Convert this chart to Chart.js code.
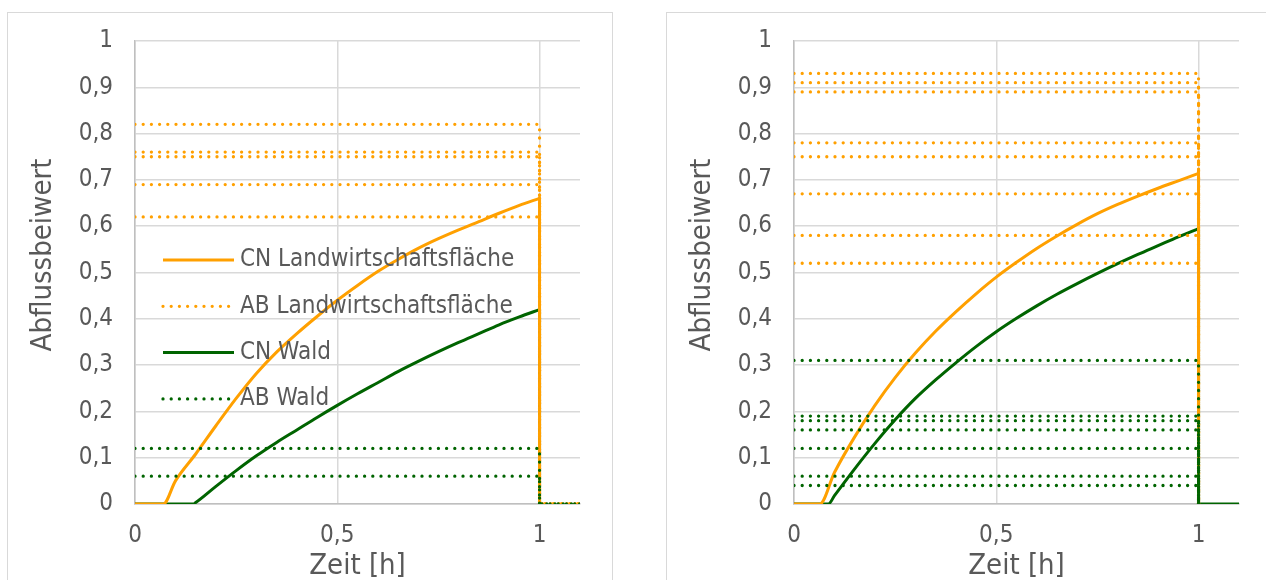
<!DOCTYPE html>
<html><head><meta charset="utf-8">
<script src="https://cdn.jsdelivr.net/npm/chart.js@4/dist/chart.umd.min.js"></script>
<style>
html,body{margin:0;padding:0;background:#fff;width:1266px;height:580px;overflow:hidden;position:relative}
.box{position:absolute;top:12px;border:1px solid #d9d9d9;height:640px;box-sizing:border-box}
#box1{left:7px;width:606px}
#box2{left:666px;width:700px}
canvas{position:absolute;top:0}
#c1{left:0}
#c2{left:659px}
</style></head><body>
<div class="box" id="box1"></div><div class="box" id="box2"></div>
<canvas id="c1" width="633" height="600" style="width:633px;height:600px"></canvas>
<canvas id="c2" width="633" height="600" style="width:633px;height:600px"></canvas>
<script>
// ---- tick labels / texts ----
const xTicks = [0, 0.5, 1];
const xTickLabels = ['0', '0,5', '1'];
const yTicks = [0, 0.1, 0.2, 0.3, 0.4, 0.5, 0.6, 0.7, 0.8, 0.9, 1];
const yTickLabels = ['0', '0,1', '0,2', '0,3', '0,4', '0,5', '0,6', '0,7', '0,8', '0,9', '1'];
const seriesNames = ['CN Landwirtschaftsfläche', 'AB Landwirtschaftsfläche', 'CN Wald', 'AB Wald'];
const xTitle = 'Zeit [h]';
const yTitle = 'Abflussbeiwert';
const stepEndTime = 1;
const axisEndTime = 1.1;

// ---- left chart ----
const leftCnLandwTime  = [0, 0.07, 0.1, 0.15, 0.2, 0.25, 0.3, 0.35, 0.4, 0.45, 0.5, 0.55, 0.6, 0.65, 0.7, 0.75, 0.8, 0.85, 0.9, 0.95, 1, 1];
const leftCnLandwValue = [0, 0, 0.05, 0.108, 0.169, 0.228, 0.282, 0.328, 0.368, 0.405, 0.44, 0.472, 0.502, 0.528, 0.552, 0.573, 0.592, 0.61, 0.628, 0.645, 0.66, 0];
const leftCnWaldTime   = [0, 0.144, 0.15, 0.2, 0.25, 0.3, 0.35, 0.4, 0.45, 0.5, 0.55, 0.6, 0.65, 0.7, 0.75, 0.8, 0.85, 0.9, 0.95, 1, 1];
const leftCnWaldValue  = [0, 0, 0.003, 0.038, 0.072, 0.104, 0.133, 0.16, 0.187, 0.213, 0.238, 0.262, 0.286, 0.308, 0.329, 0.349, 0.368, 0.387, 0.404, 0.42, 0];
const leftAbLandw = [0.82, 0.76, 0.75, 0.69, 0.62];
const leftAbWald  = [0.12, 0.06];

// ---- right chart ----
const rightCnLandwTime  = [0, 0.064, 0.1, 0.15, 0.2, 0.25, 0.3, 0.35, 0.4, 0.45, 0.5, 0.55, 0.6, 0.65, 0.7, 0.75, 0.8, 0.85, 0.9, 0.95, 1, 1];
const rightCnLandwValue = [0, 0, 0.068, 0.145, 0.213, 0.273, 0.326, 0.373, 0.415, 0.454, 0.49, 0.522, 0.552, 0.579, 0.604, 0.627, 0.647, 0.665, 0.682, 0.698, 0.714, 0];
const rightCnWaldTime   = [0, 0.085, 0.1, 0.15, 0.2, 0.25, 0.3, 0.35, 0.4, 0.45, 0.5, 0.55, 0.6, 0.65, 0.7, 0.75, 0.8, 0.85, 0.9, 0.95, 1, 1, 1.1];
const rightCnWaldValue  = [0, 0, 0.018, 0.076, 0.131, 0.182, 0.228, 0.268, 0.305, 0.34, 0.372, 0.401, 0.428, 0.453, 0.476, 0.498, 0.519, 0.539, 0.558, 0.577, 0.595, 0, 0];
const rightAbLandw = [0.93, 0.91, 0.89, 0.78, 0.75, 0.67, 0.58, 0.52];
const rightAbWald  = [0.31, 0.19, 0.18, 0.16, 0.12, 0.06, 0.04];

// ---- styles ----
const ORANGE = '#FFA000';
const GREEN = '#006400';
const TEXT = '#595959';
const FONT = '"DejaVu Sans Condensed", "DejaVu Sans", sans-serif';
const solidStyle = c => ({borderColor: c, backgroundColor: c, borderWidth: 3, borderDash: [], borderCapStyle: 'butt'});
const dotStyle = c => ({borderColor: c, backgroundColor: c, borderWidth: 3.3, borderDash: [0, 8.2], borderCapStyle: 'round'});

function pts(t, v) { return t.map((x, i) => ({x: x, y: v[i]})); }
function abPts(v, tail) {
  const p = [{x: 0, y: v}, {x: stepEndTime, y: v}, {x: stepEndTime, y: 0}];
  if (tail) p.push({x: axisEndTime, y: 0});
  return p;
}

const overlay = {
  id: 'overlay',
  afterDraw(chart, args, opts) {
    const ctx = chart.ctx, ca = chart.chartArea;
    ctx.save();
    ctx.fillStyle = TEXT;
    ctx.font = '29px ' + FONT;
    ctx.textAlign = 'center';
    ctx.textBaseline = 'middle';
    // x axis title
    ctx.fillText(xTitle, (ca.left + ca.right) / 2, opts.xTitleY);
    // y axis title
    ctx.translate(opts.yTitleX, opts.yTitleY);
    ctx.rotate(-Math.PI / 2);
    ctx.fillText(yTitle, 0, 0);
    ctx.restore();
    if (!opts.items) return;
    opts.items.forEach((it, i) => {
      const y = ca.top + opts.top + i * opts.step;
      const x0 = ca.left + opts.left;
      ctx.save();
      ctx.strokeStyle = it.style.borderColor;
      ctx.lineWidth = it.style.borderWidth;
      ctx.setLineDash(it.style.borderDash);
      ctx.lineCap = it.style.borderCapStyle;
      ctx.beginPath();
      ctx.moveTo(x0, y);
      ctx.lineTo(x0 + opts.lineLen, y);
      ctx.stroke();
      ctx.setLineDash([]);
      ctx.fillStyle = TEXT;
      ctx.font = '24px ' + FONT;
      ctx.textBaseline = 'middle';
      ctx.textAlign = 'left';
      ctx.fillText(it.text, x0 + opts.lineLen + opts.gap, y);
      ctx.restore();
    });
  }
};

function cnDatasets(label, t, v, style) {
  const all = pts(t, v);
  const k = t.indexOf(stepEndTime);
  const curve = Object.assign({label: label, data: all.slice(0, k + 1), cubicInterpolationMode: 'monotone'}, style);
  const drop = Object.assign({label: label, data: all.slice(k), tension: 0}, style);
  return [curve, drop];
}

function makeChart(id, d) {
  const datasets = [];
  d.abWald.forEach(v => datasets.push(Object.assign({label: seriesNames[3], data: abPts(v, d.abTail), tension: 0}, dotStyle(GREEN))));
  d.abLandw.forEach(v => datasets.push(Object.assign({label: seriesNames[1], data: abPts(v, d.abTail), tension: 0}, dotStyle(ORANGE))));
  cnDatasets(seriesNames[0], d.cnLandwT, d.cnLandwV, solidStyle(ORANGE)).forEach(ds => datasets.push(ds));
  cnDatasets(seriesNames[2], d.cnWaldT, d.cnWaldV, solidStyle(GREEN)).forEach(ds => datasets.push(ds));
  datasets.forEach(ds => { ds.pointRadius = 0; ds.fill = false; });

  const legendItems = d.legend ? [
    {text: seriesNames[0], style: solidStyle(ORANGE)},
    {text: seriesNames[1], style: dotStyle(ORANGE)},
    {text: seriesNames[2], style: solidStyle(GREEN)},
    {text: seriesNames[3], style: dotStyle(GREEN)}
  ] : null;

  return new Chart(document.getElementById(id), {
    type: 'line',
    data: {datasets: datasets},
    plugins: [overlay],
    options: {
      responsive: false,
      animation: false,
      devicePixelRatio: 1,
      layout: {padding: {left: 0, top: 41, right: 53, bottom: 0}},
      plugins: {
        legend: {display: false},
        tooltip: {enabled: false},
        overlay: {items: legendItems, left: 28, top: 219, step: 46.3, lineLen: 71, gap: 6,
                  xTitleY: 566, yTitleX: 43, yTitleY: 255}
      },
      scales: {
        x: {
          type: 'linear', min: 0, max: axisEndTime,
          afterBuildTicks: s => { s.ticks = xTicks.map(v => ({value: v})); },
          afterFit: s => { s.height = 96; },
          ticks: {autoSkip: false, maxRotation: 0, padding: 17, color: TEXT, font: {family: FONT, size: 24},
                  callback: (v, i) => xTickLabels[xTicks.indexOf(v)]},
          grid: {color: '#d9d9d9', lineWidth: 1.5, drawTicks: false},
          border: {color: '#bfbfbf', width: 1.5},
          title: {display: false}
        },
        y: {
          type: 'linear', min: 0, max: 1,
          afterBuildTicks: s => { s.ticks = yTicks.map(v => ({value: v})); },
          afterFit: s => { s.width = 135; },
          ticks: {autoSkip: false, padding: 22, color: TEXT, font: {family: FONT, size: 24},
                  callback: (v, i) => yTickLabels[i]},
          grid: {color: '#d9d9d9', lineWidth: 1.5, drawTicks: false},
          border: {color: '#bfbfbf', width: 1.5},
          title: {display: false}
        }
      }
    }
  });
}

makeChart('c1', {cnLandwT: leftCnLandwTime, cnLandwV: leftCnLandwValue, cnWaldT: leftCnWaldTime, cnWaldV: leftCnWaldValue,
                 abLandw: leftAbLandw, abWald: leftAbWald, abTail: true, legend: true});
makeChart('c2', {cnLandwT: rightCnLandwTime, cnLandwV: rightCnLandwValue, cnWaldT: rightCnWaldTime, cnWaldV: rightCnWaldValue,
                 abLandw: rightAbLandw, abWald: rightAbWald, abTail: false, legend: false});
</script>
</body></html>
